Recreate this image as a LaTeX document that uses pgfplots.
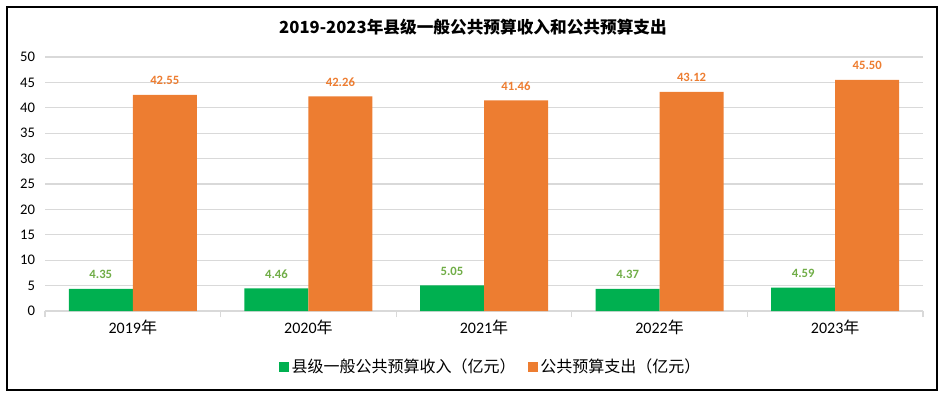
\documentclass[border=0pt]{standalone}
\usepackage{fontspec}
\setmainfont{Carlito}
\newfontfamily\cjk{Noto Sans CJK SC}
\usepackage{pgfplots}
\pgfplotsset{compat=1.18}
\definecolor{gbar}{HTML}{00B050}
\definecolor{obar}{HTML}{ED7D31}
\definecolor{glab}{HTML}{70AD47}
\definecolor{gridc}{HTML}{D9D9D9}
\newcommand\nian{{\cjk 年}}
\begin{document}
\begin{tikzpicture}[x=0.75pt,y=-0.75pt]
\useasboundingbox (0,0) rectangle (944,393);
\draw[black, line width=1pt] (7,7) rectangle (937,390);
\node[font=\cjk\bfseries\fontsize{12.5}{14}\selectfont] at (473,27) {2019-2023年县级一般公共预算收入和公共预算支出};
\coordinate (sw) at (45,311);
\begin{axis}[at={(sw)}, anchor=south west, scale only axis,
  width=658.5pt, height=190.5pt,
  xmin=-0.5, xmax=4.5, ymin=0, ymax=50,
  ytick={0,5,...,50},
  xtick={0,...,4},
  xticklabels={2019\nian,2020\nian,2021\nian,2022\nian,2023\nian},
  minor xtick={-0.5,0.5,...,4.5},
  xtick pos=bottom, ytick pos=left,
  tick align=outside,
  major tick length=0pt,
  minor tick length=4.5pt,
  minor x tick style={gridc, line width=0.8pt},
  axis line style={draw=none},
  ymajorgrids, grid style={gridc, line width=0.8pt},
  /pgf/number format/assume math mode=true,
  yticklabel style={font=\fontsize{11}{12}\selectfont, xshift=-4pt},
  xticklabel style={font=\fontsize{12}{14}\selectfont, yshift=-3pt},
  ybar=0pt, bar width=48pt,
  nodes near coords={\pgfmathprintnumber[fixed,fixed zerofill,precision=2,assume math mode=true]{\pgfplotspointmeta}},
  legend columns=2,
  legend style={draw=none, at={(0.508,-0.22)}, anchor=center,
    font=\cjk\fontsize{12}{14}\selectfont,
    /tikz/every even column/.append style={column sep=7pt}},
  legend image code/.code={\fill[#1] (0pt,-3.75pt) rectangle (7.5pt,3.75pt);},
]
\addplot[fill=gbar, draw=none,
  every node near coord/.append style={font=\bfseries\fontsize{9.5}{10}\selectfont, text=glab, yshift=4pt}]
  coordinates {(0,4.35) (1,4.46) (2,5.05) (3,4.37) (4,4.59)};
\addplot[fill=obar, draw=none,
  every node near coord/.append style={font=\bfseries\fontsize{9.5}{10}\selectfont, text=obar, yshift=4pt}]
  coordinates {(0,42.55) (1,42.26) (2,41.46) (3,43.12) (4,45.50)};
\legend{县级一般公共预算收入（亿元）,公共预算支出（亿元）}
\end{axis}
\end{tikzpicture}
\end{document}
